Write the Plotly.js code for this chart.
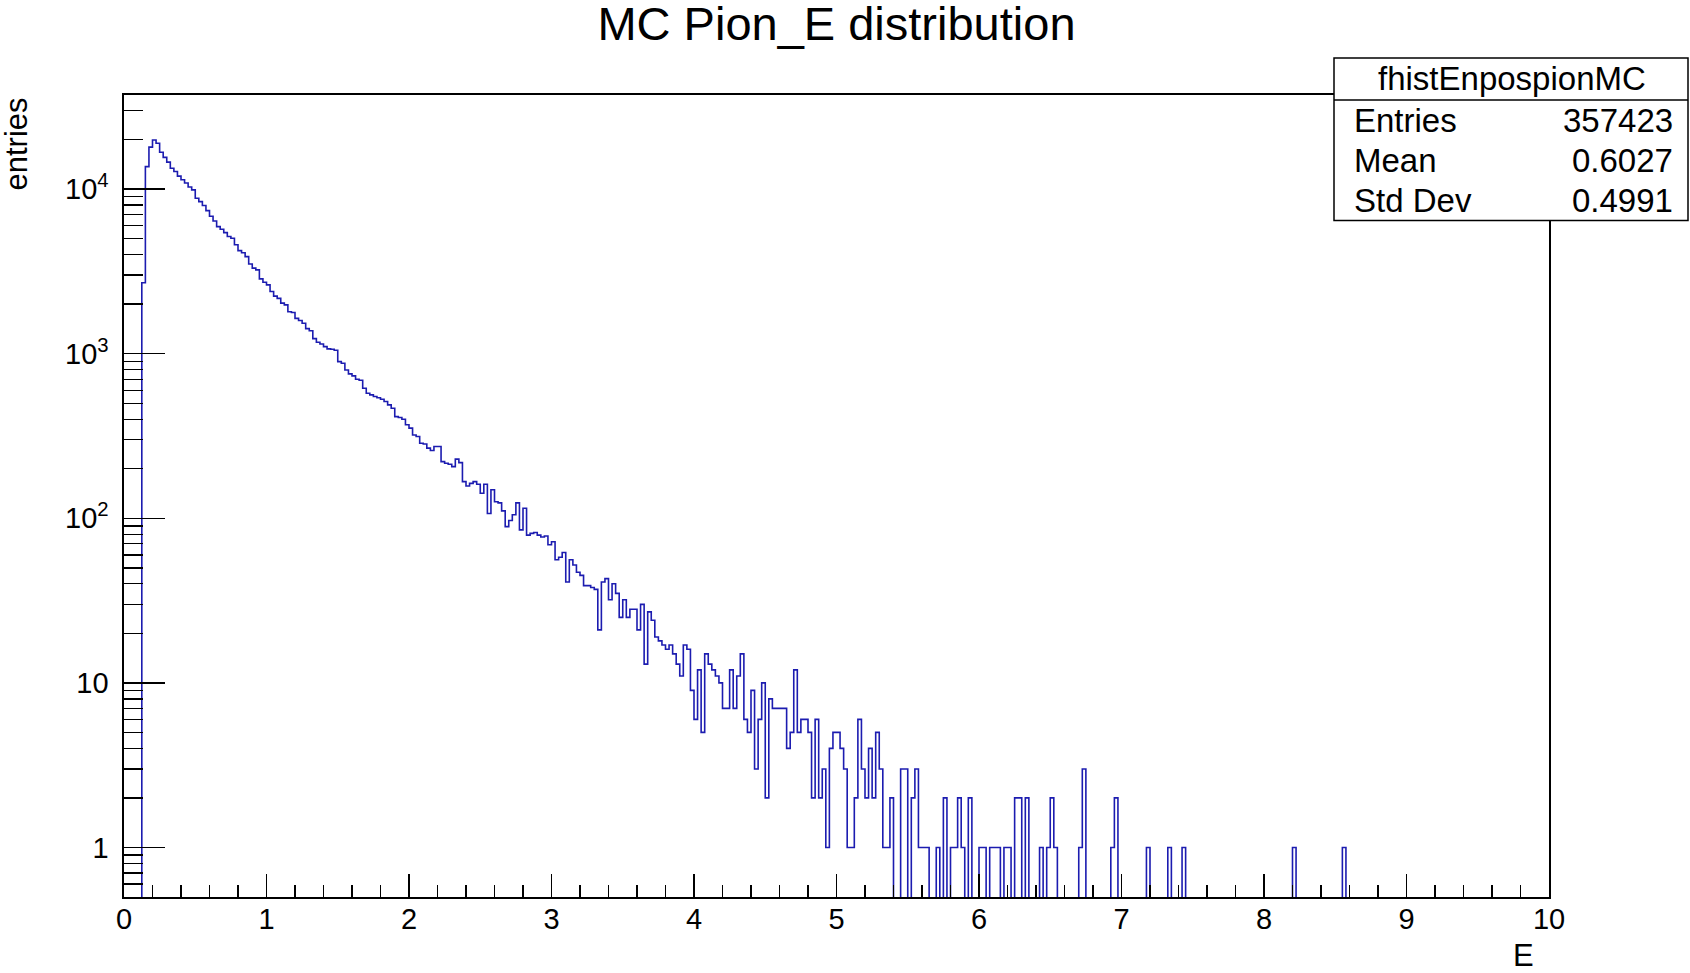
<!DOCTYPE html>
<html>
<head>
<meta charset="utf-8">
<script src="https://cdn.plot.ly/plotly-3.0.1.min.js"></script>
<style>html,body{margin:0;padding:0;background:#fff;}</style>
</head>
<body>
<div id="chart" style="width:1690px;height:973px;"></div>
<script>
// Histogram definition (ROOT TH1: 400 bins from 0 to 10)
const binWidth = 0.025;
const xMin = 0;
const xMax = 10;
const counts = [
  0,0,0,0,0,2700,13700,18000,19900,19000,
  16750,15600,14600,13400,12800,12000,11400,10900,10300,9900,
  8800,8400,7950,7400,6850,6400,5920,5700,5440,5150,
  5030,4590,4230,4110,3890,3510,3310,3230,2850,2720,
  2620,2390,2240,2170,2030,1980,1800,1780,1640,1590,
  1530,1420,1380,1235,1175,1145,1105,1070,1065,1050,
  895,875,797,754,733,700,690,617,575,562,
  550,540,529,512,489,466,415,410,400,370,
  353,321,314,286,283,267,258,273,273,221,
  216,213,206,229,218,167,157,163,167,161,
  142,161,107,149,126,124,111,89,97,105,
  124,85,115,79,81,82,79,77,78,69,
  72,56,58,62,41,56,52,47,45,39,
  39,38,37,21,41,43,32,40,35,25,
  32,25,28,28,21,30,13,27,24,19,
  18,17,16,17,15,13,11,17,16,9,
  6,12,5,15,13,12,11,10,7,7,
  12,7,11,15,6,5,9,3,6,10,
  2,8,7,7,7,7,4,5,12,5,
  6,6,5,2,6,2,3,1,4,5,
  5,4,3,1,1,2,6,3,2,4,
  2,5,3,1,1,2,0,0,3,3,
  0,2,3,1,1,1,0,0,1,0,
  2,0,1,1,2,1,0,2,0,0,
  1,1,0,1,1,1,0,1,1,0,
  2,2,0,2,0,0,0,1,0,1,
  2,1,0,0,0,0,0,0,1,3,
  0,0,0,0,0,0,0,1,2,0,
  0,0,0,0,0,0,0,1,0,0,
  0,0,0,1,0,0,0,1,0,0,
  0,0,0,0,0,0,0,0,0,0,
  0,0,0,0,0,0,0,0,0,0,
  0,0,0,0,0,0,0,0,1,0,
  0,0,0,0,0,0,0,0,0,0,
  0,0,1,0,0,0,0,0,0,0,
  0,0,0,0,0,0,0,0,0,0,
  0,0,0,0,0,0,0,0,0,0,
  0,0,0,0,0,0,0,0,0,0,
  0,0,0,0,0,0,0,0,0,0,
  0,0,0,0,0,0,0,0,0,0
];

const chartTitle = 'MC Pion_E distribution';
const xTitle = 'E';
const yTitle = 'entries';
const xTickVals = [0,1,2,3,4,5,6,7,8,9,10];
const yTickVals = [1,10,100,1000,10000];
const yTickText = ['1','10','10<sup>2</sup>','10<sup>3</sup>','10<sup>4</sup>'];
const yMin = 0.5;
const yMaxLog = 4.572;
const statsName = 'fhistEnpospionMC';
const statsLabels = ['Entries','Mean','Std Dev'];
const statsValues = ['357423','0.6027','0.4991'];

// step outline from bin edges; empty bins drop below the frame (clipped), as in ROOT
const emptyLevel = 1e-3;
const xs = [], ys = [];
for (let k = 0; k < counts.length; k++) {
  xs.push(xMin + k * binWidth);
  ys.push(counts[k] > 0 ? counts[k] : emptyLevel);
}
xs.push(xMax);
ys.push(ys[ys.length - 1]);

// minor log ticks 2..9 per decade
const yMinor = [];
[0.1,1,10,100,1000,10000].forEach(d => {
  for (let m = 2; m <= 9; m++) {
    const v = m * d;
    if (v >= yMin && Math.log10(v) <= yMaxLog) yMinor.push(v);
  }
});

const FONT = 'Liberation Sans, Arial, Helvetica, sans-serif';
const L = 124, R = 141, T = 95, B = 76, W = 1690, H = 973;
const pw = W - L - R, ph = H - T - B;
const px2x = p => (p - L) / pw;
const py2y = p => (H - B - p) / ph;

const trace = {
  type: 'scatter', mode: 'lines', x: xs, y: ys,
  line: {shape: 'hv', color: '#1c1cb0', width: 1.6},
  hoverinfo: 'skip', showlegend: false
};

const annotations = [
  {text: yTitle, xref: 'paper', yref: 'paper', x: px2x(16), y: 1, xanchor: 'center', yanchor: 'top',
   textangle: -90, showarrow: false, font: {family: FONT, size: 31, color: '#000'}},
  {text: xTitle, xref: 'paper', yref: 'paper', x: px2x(1536), y: py2y(955), xanchor: 'right', yanchor: 'middle',
   showarrow: false, font: {family: FONT, size: 31, color: '#000'}},
  {text: statsName, xref: 'paper', yref: 'paper', x: px2x(1512), y: py2y(79), xanchor: 'center', yanchor: 'middle',
   showarrow: false, font: {family: FONT, size: 33, color: '#000'}}
];
const rowY = [120, 160, 200];
statsLabels.forEach((lab, i) => {
  annotations.push({text: lab, xref: 'paper', yref: 'paper', x: px2x(1352), y: py2y(rowY[i]), xanchor: 'left', yanchor: 'middle',
    showarrow: false, font: {family: FONT, size: 33, color: '#000'}});
  annotations.push({text: statsValues[i], xref: 'paper', yref: 'paper', x: px2x(1675), y: py2y(rowY[i]), xanchor: 'right', yanchor: 'middle',
    showarrow: false, font: {family: FONT, size: 33, color: '#000'}});
});

const layout = {
  width: W, height: H,
  margin: {l: L, r: R, t: T, b: B, pad: 0},
  paper_bgcolor: '#fff', plot_bgcolor: '#fff',
  showlegend: false,
  title: {text: chartTitle, x: 0.5, xref: 'paper', xanchor: 'center', y: 1 - 24 / H, yref: 'container', yanchor: 'middle',
          font: {family: FONT, size: 47, color: '#000'}},
  xaxis: {
    type: 'linear', range: [xMin, xMax], tickmode: 'array', tickvals: xTickVals,
    ticks: 'inside', ticklen: 23, tickwidth: 1.4, tickcolor: '#000',
    minor: {ticks: 'inside', dtick: 0.2, tick0: 0, ticklen: 12, tickwidth: 1.4, tickcolor: '#000', showgrid: false},
    showline: true, mirror: true, linecolor: '#000', linewidth: 1.6,
    showgrid: false, zeroline: false,
    tickfont: {family: FONT, size: 29, color: '#000'}, ticklabelstandoff: -4
  },
  yaxis: {
    type: 'log', range: [Math.log10(yMin), yMaxLog], tickmode: 'array', tickvals: yTickVals, ticktext: yTickText,
    ticks: 'inside', ticklen: 41, tickwidth: 1.4, tickcolor: '#000',
    minor: {ticks: 'inside', tickmode: 'array', tickvals: yMinor, ticklen: 19, tickwidth: 1.4, tickcolor: '#000', showgrid: false},
    showline: true, mirror: true, linecolor: '#000', linewidth: 1.6,
    showgrid: false, zeroline: false,
    tickfont: {family: FONT, size: 29, color: '#000'}, ticklabelstandoff: 8
  },
  shapes: [
    {type: 'rect', xref: 'paper', yref: 'paper', x0: px2x(1334), x1: px2x(1688), y0: py2y(220.5), y1: py2y(58),
     line: {color: '#000', width: 1.5}, fillcolor: '#fff', layer: 'above'},
    {type: 'line', xref: 'paper', yref: 'paper', x0: px2x(1334), x1: px2x(1688), y0: py2y(100), y1: py2y(100),
     line: {color: '#000', width: 1.5}, layer: 'above'}
  ],
  annotations: annotations
};

Plotly.newPlot('chart', [trace], layout, {displayModeBar: false, staticPlot: true});
</script>
</body>
</html>
